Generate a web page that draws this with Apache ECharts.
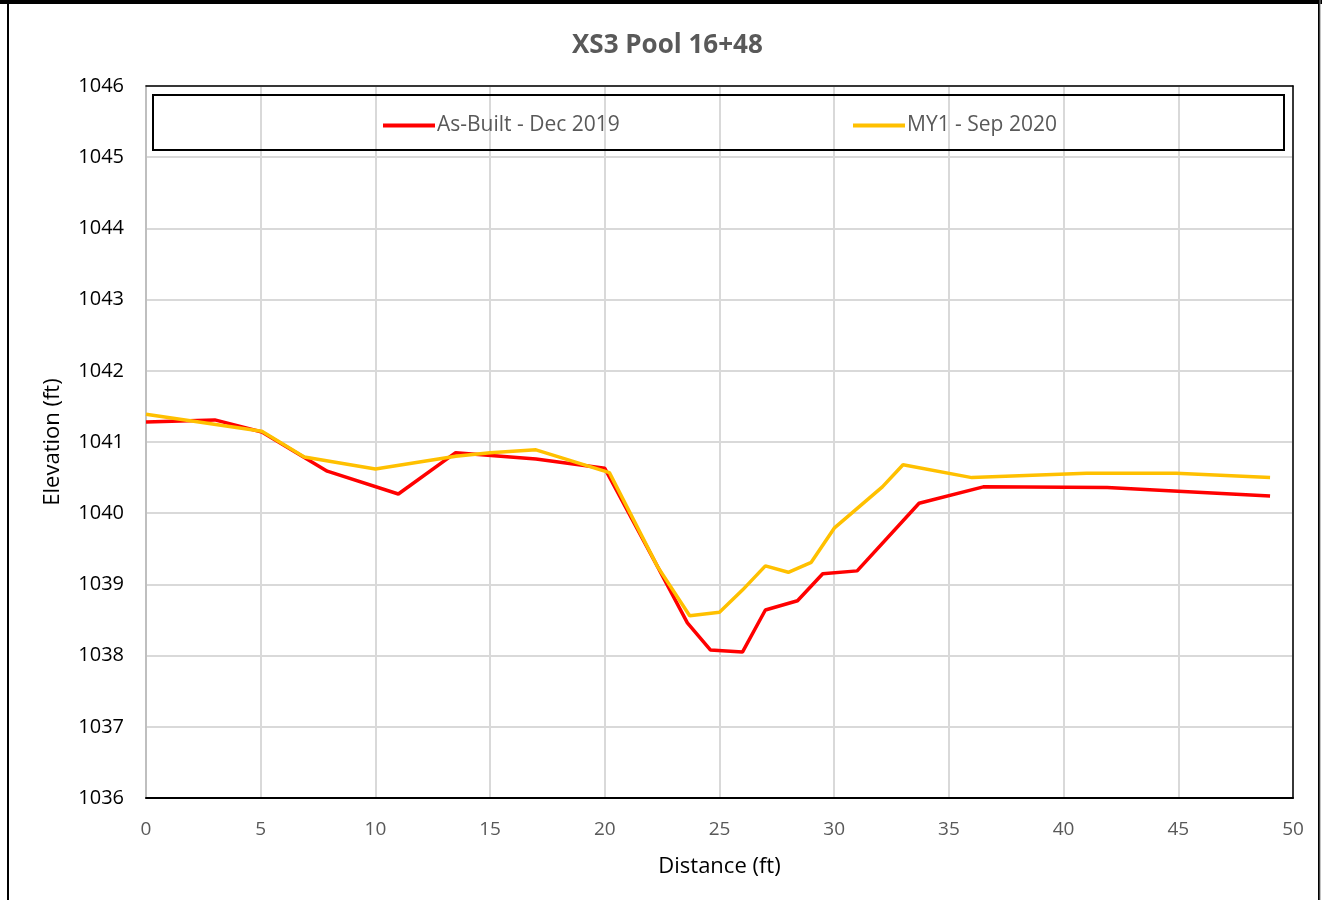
<!DOCTYPE html>
<html>
<head>
<meta charset="utf-8">
<script src="https://cdn.jsdelivr.net/npm/echarts@6/dist/echarts.min.js"></script>
<style>
html,body{margin:0;padding:0;background:#fff;}
#c{width:1322px;height:900px;}
</style>
</head>
<body>
<div id="c"></div>
<script>
const chartTitle = 'XS3 Pool 16+48';
const xAxisName = 'Distance (ft)';
const yAxisName = 'Elevation (ft)';
const seriesNames = ['As-Built - Dec 2019', 'MY1 - Sep 2020'];
const asBuiltX = [0, 3.0, 5.05, 7.9, 11.0, 13.5, 17.0, 20.0, 22.3, 23.6, 24.6, 26.0, 27.0, 28.4, 29.5, 31.0, 33.7, 36.5, 41.9, 45.0, 49.0];
const asBuiltY = [1041.28, 1041.31, 1041.14, 1040.59, 1040.27, 1040.85, 1040.76, 1040.63, 1039.25, 1038.46, 1038.08, 1038.05, 1038.64, 1038.77, 1039.15, 1039.19, 1040.14, 1040.37, 1040.36, 1040.31, 1040.24];
const my1X = [0, 5.05, 6.9, 10.0, 13.5, 15.0, 17.0, 20.2, 22.3, 23.7, 25.0, 26.0, 27.0, 28.0, 29.0, 30.0, 32.1, 33.0, 36.0, 41.0, 44.9, 49.0];
const my1Y = [1041.39, 1041.15, 1040.79, 1040.62, 1040.80, 1040.85, 1040.89, 1040.57, 1039.25, 1038.56, 1038.61, 1038.92, 1039.26, 1039.17, 1039.31, 1039.79, 1040.37, 1040.68, 1040.50, 1040.56, 1040.56, 1040.50];
const colors = ['#ff0000', '#ffc000'];

const font = 'Open Sans';
const chart = echarts.init(document.getElementById('c'));
const zip = (xs, ys) => xs.map((x, i) => [x, ys[i]]);

chart.setOption({
  backgroundColor: '#fff',
  animation: false,
  title: {
    text: chartTitle, left: 567, top: 28,
    textStyle: {fontFamily: font, fontSize: 26, fontWeight: 'bold', color: '#595959'}
  },
  legend: [
    {data: [seriesNames[0]], left: 378, top: 110, icon: 'rect', itemWidth: 52, itemHeight: 4, itemGap: 5,
     textStyle: {fontFamily: font, fontSize: 21, color: '#595959', padding: [0,0,0,-3]}},
    {data: [seriesNames[1]], left: 848, top: 110, icon: 'rect', itemWidth: 52, itemHeight: 4, itemGap: 5,
     textStyle: {fontFamily: font, fontSize: 21, color: '#595959', padding: [0,0,0,-3]}}
  ],
  graphic: [
    {type: 'rect', shape: {x: 8, y: 2, width: 1311, height: 905}, style: {fill: 'none', stroke: '#000', lineWidth: 2}, silent: true, z: 100},
    {type: 'rect', shape: {x: 0, y: 0, width: 1322, height: 4}, style: {fill: '#000'}, silent: true, z: 100},
    {type: 'rect', shape: {x: 1319.5, y: 0, width: 1, height: 900}, style: {fill: '#888'}, silent: true, z: 100},
    {type: 'rect', shape: {x: 153, y: 95, width: 1131, height: 55}, style: {fill: 'none', stroke: '#000', lineWidth: 2}, silent: true, z: 50}
  ],
  grid: {left: 146, right: 29, top: 86, bottom: 102},
  xAxis: [{
    type: 'value', min: 0, max: 50, interval: 5,
    name: xAxisName, nameLocation: 'middle', nameGap: 58,
    nameTextStyle: {fontFamily: font, fontSize: 22, color: '#000'},
    axisLine: {show: true, onZero: false, lineStyle: {color: '#000', width: 2}},
    axisTick: {show: false},
    axisLabel: {fontFamily: font, fontSize: 19, color: '#595959', margin: 22},
    splitLine: {show: true, lineStyle: {color: '#d9d9d9', width: 2}}
  }, {
    type: 'value', min: 0, max: 50, position: 'top',
    axisLine: {show: true, onZero: false, lineStyle: {color: '#000', width: 1.5}},
    axisTick: {show: false}, axisLabel: {show: false}, splitLine: {show: false}
  }],
  yAxis: [{
    type: 'value', min: 1036, max: 1046, interval: 1,
    name: yAxisName, nameLocation: 'middle', nameGap: 82, nameRotate: 90,
    nameTextStyle: {fontFamily: font, fontSize: 22, color: '#000'},
    axisLine: {show: true, onZero: false, lineStyle: {color: '#bfbfbf', width: 2}},
    axisTick: {show: false},
    axisLabel: {fontFamily: font, fontSize: 20, color: '#000', margin: 22, formatter: v => String(v)},
    splitLine: {show: true, lineStyle: {color: '#d9d9d9', width: 2}}
  }, {
    type: 'value', min: 1036, max: 1046, position: 'right',
    axisLine: {show: true, onZero: false, lineStyle: {color: '#000', width: 1.5}},
    axisTick: {show: false}, axisLabel: {show: false}, splitLine: {show: false}
  }],
  series: [
    {name: seriesNames[0], type: 'line', data: zip(asBuiltX, asBuiltY), showSymbol: false, symbol: 'none',
     lineStyle: {color: colors[0], width: 3.5}, itemStyle: {color: colors[0]}, z: 3},
    {name: seriesNames[1], type: 'line', data: zip(my1X, my1Y), showSymbol: false, symbol: 'none',
     lineStyle: {color: colors[1], width: 3.5}, itemStyle: {color: colors[1]}, z: 4}
  ]
});
</script>
</body>
</html>
